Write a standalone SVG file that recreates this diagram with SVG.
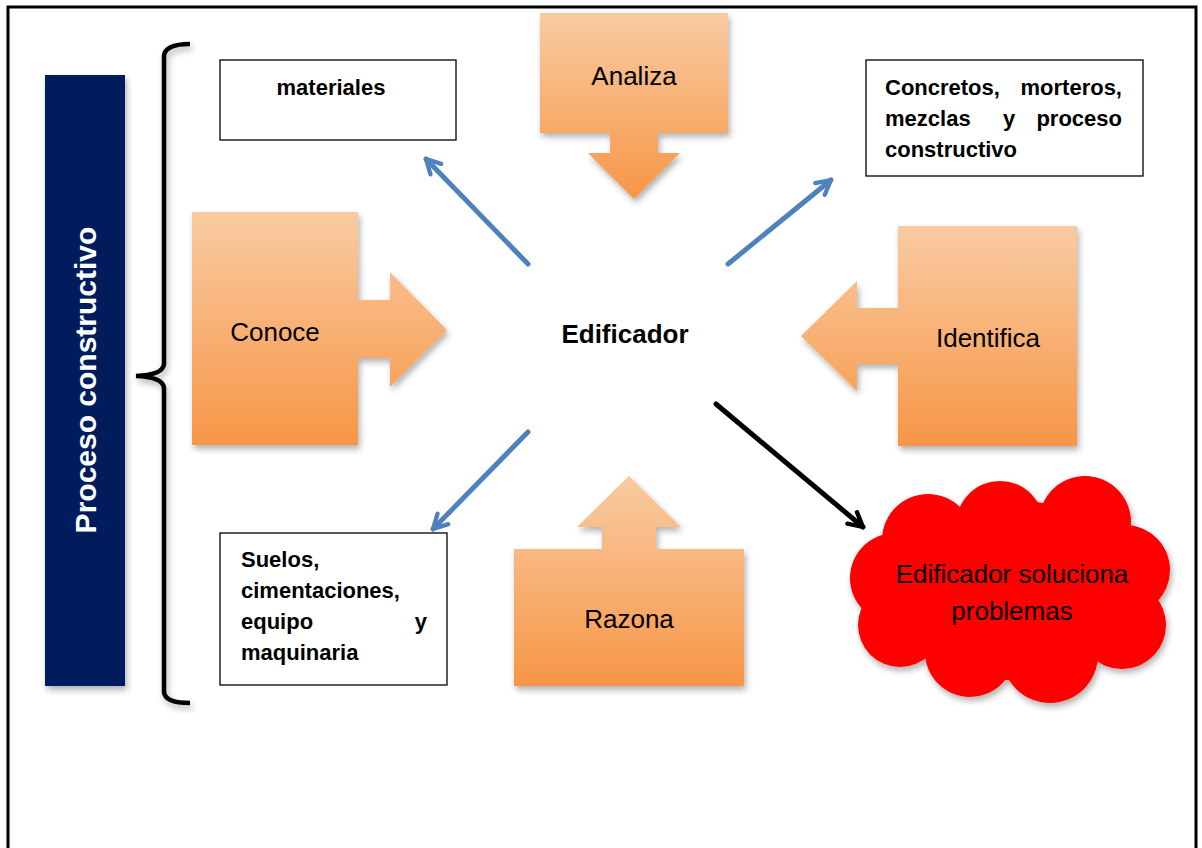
<svg xmlns="http://www.w3.org/2000/svg" width="1202" height="848" viewBox="0 0 1202 848">
<defs>
  <linearGradient id="og" x1="0" y1="0" x2="0" y2="1">
    <stop offset="0" stop-color="#F9CBA2"/>
    <stop offset="1" stop-color="#F79646"/>
  </linearGradient>
  <filter id="sh" x="-20%" y="-20%" width="140%" height="140%">
    <feDropShadow dx="2" dy="4" stdDeviation="3" flood-color="#000" flood-opacity="0.3"/>
  </filter>
  <marker id="ab" viewBox="0 0 12 12" refX="10" refY="6" markerWidth="20" markerHeight="20" markerUnits="userSpaceOnUse" orient="auto">
    <path d="M1.5,1.5 L10,6 L1.5,10.5" fill="none" stroke="#4F81BD" stroke-width="2.6" stroke-linecap="round" stroke-linejoin="round"/>
  </marker>
  <marker id="ak" viewBox="0 0 12 12" refX="10" refY="6" markerWidth="20" markerHeight="20" markerUnits="userSpaceOnUse" orient="auto">
    <path d="M1.5,1.5 L10,6 L1.5,10.5" fill="none" stroke="#000" stroke-width="2.6" stroke-linecap="round" stroke-linejoin="round"/>
  </marker>
  <style>
    .lbl{font-family:"Liberation Sans",Arial,sans-serif;font-size:26px;fill:#000}
    .b{font-family:"Liberation Sans",Arial,sans-serif;font-size:22px;font-weight:bold;fill:#000}
    .box{fill:#fff;stroke:#000;stroke-width:1.3}
    .blue{stroke:#4F81BD;stroke-width:5;fill:none;stroke-linecap:round;marker-end:url(#ab)}
  </style>
</defs>
<rect x="0" y="0" width="1202" height="848" fill="#fff"/>
<rect x="8" y="7" width="1188" height="860" fill="none" stroke="#000" stroke-width="3"/>

<g id="proceso">
  <rect x="45" y="75" width="80" height="611" fill="#001F5B" filter="url(#sh)"/>
  <text transform="translate(96,380) rotate(-90)" text-anchor="middle" font-family="Liberation Sans, Arial, sans-serif" font-size="30" font-weight="bold" fill="#fff">Proceso constructivo</text>
</g>

<g id="brace">
  <path d="M190,44 Q165,44 164,56 L164,364 Q163,375 136,376 Q163,377 164,388 L164,692 Q165,703 190,703" fill="none" stroke="#000" stroke-width="4.5" filter="url(#sh)"/>
</g>

<g id="materiales">
  <rect class="box" x="220" y="60" width="236" height="80"/>
  <text class="b" x="331" y="95" text-anchor="middle">materiales</text>
</g>

<g id="concretos">
  <rect class="box" x="866" y="60" width="277" height="116"/>
  <text class="b" x="885" y="95">Concretos,</text>
  <text class="b" x="1122" y="95" text-anchor="end">morteros,</text>
  <text class="b" x="885" y="126">mezclas</text>
  <text class="b" x="1009" y="126" text-anchor="middle">y</text>
  <text class="b" x="1122" y="126" text-anchor="end">proceso</text>
  <text class="b" x="885" y="157">constructivo</text>
</g>

<g id="suelos">
  <rect class="box" x="220" y="533" width="227" height="152"/>
  <text class="b" x="241" y="567">Suelos,</text>
  <text class="b" x="241" y="598">cimentaciones,</text>
  <text class="b" x="241" y="629">equipo</text>
  <text class="b" x="427" y="629" text-anchor="end">y</text>
  <text class="b" x="241" y="660">maquinaria</text>
</g>

<g id="analiza">
  <path d="M540,13 H728 V133 H658 V153 H680 L634,199 L588,153 H610 V133 H540 Z" fill="url(#og)" filter="url(#sh)"/>
  <text class="lbl" x="634" y="85" text-anchor="middle">Analiza</text>
</g>

<g id="conoce">
  <path d="M192,212 H358 V300 H390 V272 L447,330 L390,387 V358 H358 V445 H192 Z" fill="url(#og)" filter="url(#sh)"/>
  <text class="lbl" x="275" y="341" text-anchor="middle">Conoce</text>
</g>

<g id="identifica">
  <path d="M898,226 H1077 V446 H898 V364 H857 V391 L801,336 L857,281 V308 H898 Z" fill="url(#og)" filter="url(#sh)"/>
  <text class="lbl" x="988" y="347" text-anchor="middle">Identifica</text>
</g>

<g id="razona">
  <path d="M629,476 L681,527 H656 V549 H744 V686 H514 V549 H602 V527 H577 Z" fill="url(#og)" filter="url(#sh)"/>
  <text class="lbl" x="629" y="628" text-anchor="middle">Razona</text>
</g>

<g id="edificador">
  <text x="625" y="343" text-anchor="middle" font-family="Liberation Sans, Arial, sans-serif" font-size="26" font-weight="bold" fill="#000">Edificador</text>
</g>

<g id="cloud">
  <g fill="#FF0000" filter="url(#sh)">
    <circle cx="928" cy="540" r="46"/>
    <circle cx="1000" cy="525" r="44"/>
    <circle cx="1085" cy="522" r="46"/>
    <circle cx="1125" cy="570" r="45"/>
    <circle cx="1122" cy="625" r="44"/>
    <circle cx="1050" cy="655" r="48"/>
    <circle cx="970" cy="652" r="45"/>
    <circle cx="900" cy="625" r="42"/>
    <circle cx="895" cy="578" r="45"/>
    <ellipse cx="1010" cy="590" rx="130" ry="90"/>
  </g>
  <text class="lbl" x="1012" y="583" text-anchor="middle">Edificador soluciona</text>
  <text class="lbl" x="1012" y="620" text-anchor="middle">problemas</text>
</g>

<g id="connectors">
  <line class="blue" x1="528" y1="264" x2="426" y2="159"/>
  <line class="blue" x1="728" y1="264" x2="831" y2="180"/>
  <line class="blue" x1="528" y1="432" x2="433" y2="529"/>
  <line x1="716" y1="404" x2="863" y2="527" stroke="#000" stroke-width="5" stroke-linecap="round" marker-end="url(#ak)"/>
</g>
</svg>
